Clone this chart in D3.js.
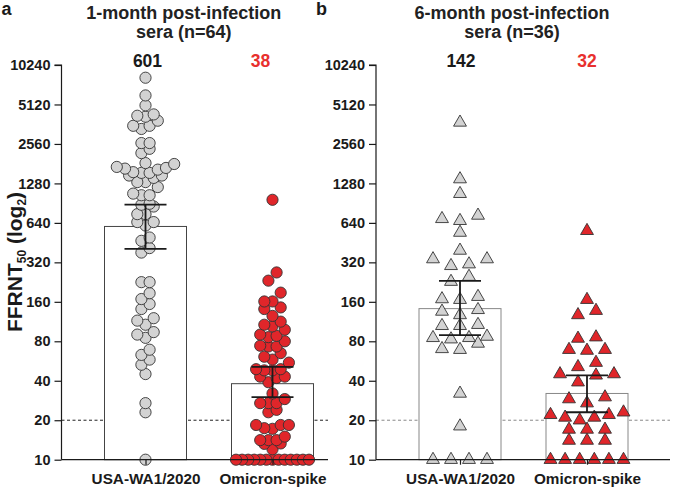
<!DOCTYPE html>
<html>
<head>
<meta charset="utf-8">
<script src="https://cdn.jsdelivr.net/npm/d3@7"></script>
<style>
  body { margin: 0; background: #fff; }
  svg { font-family: "Liberation Sans", Arial, sans-serif; font-weight: bold; }
</style>
</head>
<body>
<svg id="chart" width="675" height="489"></svg>
<script>
// data
const categories = ["USA-WA1/2020", "Omicron-spike"];
const yTicks = [10, 20, 40, 80, 160, 320, 640, 1280, 2560, 5120, 10240];

const oneMonthWA1 = [8190, 6000, 5040, 4300, 4130, 4200, 3850, 3520, 3520, 3330,
  2600, 2600, 2350, 2180, 1830, 1800, 1680, 1630, 1540, 1560,
  1710, 1660, 1540, 1470, 1470, 1410, 1310, 1310, 1200, 1040,
  1040, 1070, 895, 880, 853, 746, 746, 649, 611, 649,
  495, 467, 411, 380, 226, 226, 186, 168, 154, 141,
  120, 115, 107, 94, 85, 90, 69, 63, 58, 53,
  45, 27, 23, 10];
const oneMonthOmicron = [960, 268, 232, 188, 161, 161, 145, 141, 125, 113,
  104, 107, 90, 98, 86, 88, 74, 73, 73, 80,
  65, 61, 58, 55, 49, 49, 48, 48, 43, 43,
  42, 39, 32, 27, 27, 29, 27, 23, 24, 18.4,
  18.4, 17.4, 18.4, 17.2, 15, 14.1, 14.1, 14.1, 13.3, 12,
  13.2, 10, 10, 10, 10, 10, 10, 10, 10, 10, 10, 10, 10, 10];
const sixMonthWA1 = [3735, 1381, 1067, 664, 729, 687, 540, 394, 339, 339,
  301, 310, 228, 249, 168, 175, 166, 135, 139, 127,
  107, 105, 105, 83, 85, 77, 85, 87, 70, 69,
  32, 18, 10, 10, 10, 10];
const sixMonthOmicron = [557, 166, 127, 137, 86, 84, 68, 69, 69, 55,
  45, 51, 45, 44, 39, 30, 29, 27, 21, 22,
  23, 20, 22, 21, 17, 17, 17, 14, 14, 14,
  10, 10, 10, 10, 10, 10];

const oneMonthGMT = [601, 38];
const oneMonthCI = [[406, 881], [30, 51]];
const sixMonthGMT = [142, 32];
const sixMonthCI = [[89, 231], [23, 44]];

const grey = "#d3d3d3";
const red = "#e0262a";
const redText = "#e8302e";
const ink = "#1a1a1a";
const font = "Liberation Sans, Arial, sans-serif";

const svg = d3.select("#chart");

const y = d3.scaleLog().base(2)
  .domain([10, 10240])
  .range([459.7, 65]);

// Prism-like column scatter: group nearby values into rows, spread each row
function swarm(values, cx, step, rowH, maxW) {
  const pts = values.map(v => ({ v, y: y(v) })).sort((a, b) => b.y - a.y);
  const rows = [];
  pts.forEach(p => {
    const row = rows[rows.length - 1];
    if (row && row[0].y - p.y <= rowH) row.push(p);
    else rows.push([p]);
  });
  rows.forEach(row => {
    const n = row.length;
    const s = n > 1 ? Math.min(step, maxW / (n - 1)) : 0;
    const slots = d3.range(n).map(i => (i - (n - 1) / 2) * s)
      .sort((a, b) => Math.abs(a) - Math.abs(b));
    row.forEach((p, i) => { p.x = cx + slots[i]; });
  });
  return pts;
}

function panel(opts) {
  const { x0, x1, series, gmt, ci, shape, title, letter, dashColor, barStroke, labelDx } = opts;
  const g = svg.append("g");

  const x = d3.scalePoint()
    .domain(categories)
    .range([x0 + 84, x0 + 211]);
  const barW = 82;

  // letter + title
  g.append("text")
    .attr("x", x0 - 60).attr("y", 15)
    .attr("font-size", 18)
    .attr("fill", ink)
    .text(letter);
  title.forEach((t, i) => {
    g.append("text")
      .attr("x", x0 + 122 + (x1 - x0 - 266) / 2)
      .attr("y", 19 + i * 19)
      .attr("text-anchor", "middle")
      .attr("font-size", 18)
      .attr("fill", "#222")
      .text(t);
  });

  // limit of detection line
  g.append("line")
    .attr("x1", x0).attr("x2", x1)
    .attr("y1", y(20)).attr("y2", y(20))
    .attr("stroke", dashColor)
    .attr("stroke-width", 1)
    .attr("stroke-dasharray", "3,2.5");

  // bars at GMT
  g.selectAll("rect.bar")
    .data(categories)
    .join("rect")
    .attr("class", "bar")
    .attr("x", d => x(d) - barW / 2)
    .attr("width", barW)
    .attr("y", (d, i) => y(gmt[i]))
    .attr("height", (d, i) => y(10) - y(gmt[i]))
    .attr("fill", "#fff")
    .attr("stroke", barStroke)
    .attr("stroke-width", 1);

  // points
  categories.forEach((c, i) => {
    const fill = i === 0 ? grey : red;
    if (shape === "circle") {
      const pts = swarm(series[i], x(c), 8.2, 9, 73);
      g.append("g").selectAll("circle")
        .data(pts)
        .join("circle")
        .attr("cx", d => d.x)
        .attr("cy", d => d.y)
        .attr("r", 5.6)
        .attr("fill", fill)
        .attr("stroke", "#333")
        .attr("stroke-width", 0.9);
    } else {
      const pts = swarm(series[i], x(c), 18, 9, 73);
      const tri = d3.symbol().type(d3.symbolTriangle).size(72);
      g.append("g").selectAll("path")
        .data(pts)
        .join("path")
        .attr("transform", d => `translate(${d.x},${d.y})`)
        .attr("d", tri)
        .attr("fill", fill)
        .attr("stroke", "#333")
        .attr("stroke-width", 0.9);
    }
  });

  // error bars (95% CI)
  const eb = g.append("g")
    .attr("stroke", ink)
    .attr("stroke-width", 1.8);
  categories.forEach((c, i) => {
    const cx = x(c);
    eb.append("line")
      .attr("x1", cx).attr("x2", cx)
      .attr("y1", y(ci[i][0])).attr("y2", y(ci[i][1]));
    ci[i].forEach(v => {
      eb.append("line")
        .attr("x1", cx - 21).attr("x2", cx + 21)
        .attr("y1", y(v)).attr("y2", y(v));
    });
  });

  // GMT labels
  g.selectAll("text.gmt")
    .data(categories)
    .join("text")
    .attr("class", "gmt")
    .attr("x", (d, i) => x(d) + labelDx[i])
    .attr("y", 66.5)
    .attr("text-anchor", "middle")
    .attr("font-size", 17.5)
    .attr("fill", (d, i) => i === 0 ? ink : redText)
    .text((d, i) => gmt[i]);

  // y axis
  const yAxis = g.append("g")
    .attr("transform", `translate(${x0},0)`)
    .call(d3.axisLeft(y).tickValues(yTicks).tickFormat(d3.format("d"))
      .tickSize(7).tickPadding(4));
  yAxis.selectAll("text").attr("font-size", 14.5).attr("fill", ink)
    .attr("font-family", font).attr("font-weight", "bold");
  yAxis.selectAll("line, path").attr("stroke", ink).attr("stroke-width", 1.2);
  yAxis.select(".domain").attr("d", `M-7,${y(10240)}H0V${y(10)}`);

  // x axis
  const xAxis = g.append("g")
    .attr("transform", `translate(0,${y(10)})`)
    .call(d3.axisBottom(x).tickSize(5).tickPadding(8));
  xAxis.select(".domain").attr("d", `M${x0},0H${x1}`);
  xAxis.selectAll("text").attr("font-size", 15.3).attr("fill", ink)
    .attr("font-family", font).attr("font-weight", "bold");
  xAxis.selectAll("line, path").attr("stroke", ink).attr("stroke-width", 1.2);
}

panel({
  x0: 61.5, x1: 328,
  series: [oneMonthWA1, oneMonthOmicron],
  gmt: oneMonthGMT, ci: oneMonthCI,
  shape: "circle",
  title: ["1-month post-infection", "sera (n=64)"],
  letter: "a",
  dashColor: "#222", barStroke: "#444",
  labelDx: [2, -12]
});

panel({
  x0: 376, x1: 670,
  series: [sixMonthWA1, sixMonthOmicron],
  gmt: sixMonthGMT, ci: sixMonthCI,
  shape: "triangle",
  title: ["6-month post-infection", "sera (n=36)"],
  letter: "b",
  dashColor: "#888", barStroke: "#888",
  labelDx: [1, 0]
});

// y axis title
svg.append("text")
  .attr("transform", "translate(22,262) rotate(-90)")
  .attr("text-anchor", "middle")
  .attr("font-size", 21)
  .attr("fill", ink)
  .call(t => {
    t.append("tspan").text("FFRNT");
    t.append("tspan").attr("font-size", 12).attr("dy", 4).text("50");
    t.append("tspan").attr("dy", -4).text(" (log");
    t.append("tspan").attr("font-size", 12).attr("dy", 4).text("2");
    t.append("tspan").attr("dy", -4).text(")");
  });
</script>
</body>
</html>
